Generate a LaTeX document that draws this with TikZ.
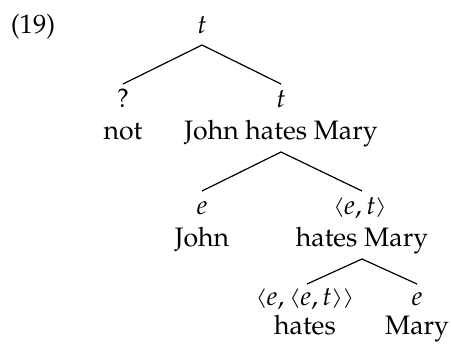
\documentclass[tikz,border=0pt]{standalone}
\usepackage[T1]{fontenc}
\usepackage{mathpazo}
\usepackage{graphicx}
\newcommand\myla{\mathopen{\raisebox{0.75pt}{\scalebox{1}[0.7]{$\langle$}}}}
\newcommand\myra{\mathclose{\raisebox{0.75pt}{\scalebox{1}[0.7]{$\rangle$}}}}
\begin{document}
\begin{tikzpicture}[x=0.375pt,y=-0.375pt,
  lab/.style={anchor=base,inner sep=0pt,font=\fontsize{10pt}{12pt}\selectfont},
  edge/.style={line width=0.45pt}]
\useasboundingbox (0,0) rectangle (451,344);
\node[lab] (ex) at (33,33) {(19)};
\node[lab] (n0) at (202,33) {$t$};
\node[lab] (n1) at (123,107) {?};
\node[lab] (n2) at (281,107) {$t$};
\node[lab] (w1) at (123,139) {not};
\node[lab] (w2) at (281,139) {John hates Mary};
\node[lab] (n3) at (202,214) {$e$};
\node[lab] (n4) at (360,214) {$\myla e,t\myra$};
\node[lab] (w3) at (202,246) {John};
\node[lab] (w4) at (362,246) {hates Mary};
\node[lab] (n5) at (305,305) {$\myla e,\myla e,t\myra\myra$};
\node[lab] (n6) at (417,305) {$e$};
\node[lab] (w5) at (305,334) {hates};
\node[lab] (w6) at (417,334) {Mary};
\coordinate (r0) at (202,45);
\coordinate (l1) at (123,84);
\coordinate (l2) at (281,84);
\coordinate (r2) at (281,152);
\coordinate (l3) at (202,191);
\coordinate (l4) at (362,191);
\coordinate (r4) at (362,259);
\coordinate (l5) at (307,284);
\coordinate (l6) at (417,284);
\draw[edge] (l1) -- (r0) -- (l2);
\draw[edge] (l3) -- (r2) -- (l4);
\draw[edge] (l5) -- (r4) -- (l6);
\end{tikzpicture}
\end{document}
